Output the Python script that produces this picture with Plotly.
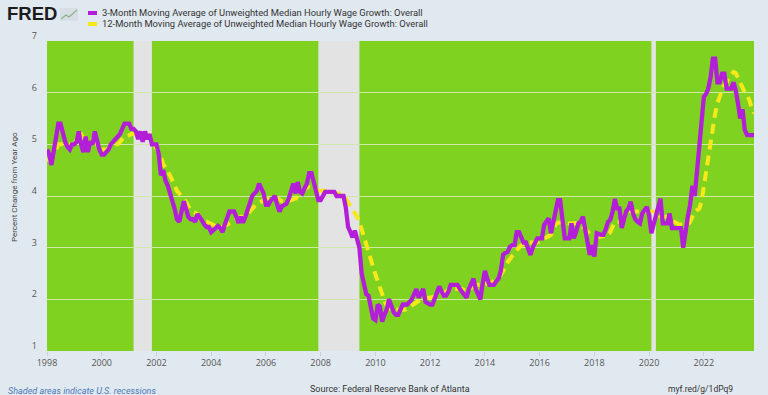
import pandas as pd
import plotly.graph_objects as go

# ---------------- data (monthly, Jan 1998 - Nov 2023) ----------------
start_month = "1998-01-01"

wage_3m = [
    4.9, 4.8, 4.6, 4.9, 5.2, 5.4, 5.4, 5.2, 5.05, 4.95, 4.9, 5.0,        # 1998
    5.0, 5.05, 5.25, 5.0, 4.85, 5.15, 4.85, 5.05, 5.0, 5.25, 5.05, 4.9,  # 1999
    4.8, 4.8, 4.85, 4.9, 5.0, 5.05, 5.1, 5.15, 5.2, 5.3, 5.4, 5.4,      # 2000
    5.4, 5.3, 5.3, 5.25, 5.1, 5.25, 5.05, 5.25, 5.1, 5.2, 5.0, 5.0,     # 2001
    5.0, 4.8, 4.4, 4.5, 4.3, 4.2, 4.05, 3.95, 3.75, 3.55, 3.5, 3.7,     # 2002
    3.9, 3.75, 3.6, 3.55, 3.55, 3.5, 3.65, 3.6, 3.5, 3.45, 3.4, 3.4,    # 2003
    3.3, 3.35, 3.4, 3.42, 3.38, 3.3, 3.45, 3.6, 3.7, 3.7, 3.7, 3.6,     # 2004
    3.48, 3.6, 3.48, 3.6, 3.75, 3.92, 4.0, 4.05, 4.1, 4.24, 4.15, 4.05, # 2005
    3.83, 3.83, 3.9, 3.95, 4.0, 3.83, 3.7, 3.8, 3.83, 3.85, 3.95, 4.1,  # 2006
    4.24, 4.05, 4.27, 4.08, 4.05, 4.15, 4.24, 4.44, 4.44, 4.27, 4.1, 3.92,  # 2007
    3.92, 4.0, 4.08, 4.08, 4.08, 4.08, 4.08, 4.0, 4.0, 4.0, 4.0, 3.78,  # 2008
    3.4, 3.3, 3.2, 3.33, 3.15, 3.0, 2.5, 2.3, 2.1, 2.07, 1.85, 1.63,    # 2009
    1.6, 1.9, 1.86, 1.57, 1.7, 1.8, 2.0, 1.86, 1.75, 1.7, 1.7, 1.8,     # 2010
    1.9, 1.9, 1.9, 1.95, 2.0, 2.1, 2.2, 2.03, 2.1, 2.2, 1.95, 1.92,     # 2011
    1.9, 1.9, 2.0, 2.13, 2.25, 2.15, 2.07, 2.07, 2.15, 2.28, 2.28, 2.28,  # 2012
    2.28, 2.2, 2.15, 2.1, 2.03, 2.2, 2.3, 2.4, 2.2, 2.1, 2.0, 2.3,      # 2013
    2.55, 2.4, 2.28, 2.28, 2.28, 2.35, 2.4, 2.55, 2.86, 2.9, 2.92, 3.02,  # 2014
    3.05, 3.05, 3.3, 3.3, 3.18, 3.1, 3.1, 3.0, 2.86, 3.0, 3.1, 3.18,    # 2015
    3.18, 3.18, 3.44, 3.5, 3.57, 3.28, 3.47, 3.7, 3.92, 3.92, 3.5, 3.18,  # 2016
    3.18, 3.18, 3.47, 3.18, 3.3, 3.47, 3.5, 3.6, 3.35, 3.1, 2.86, 3.05,  # 2017
    2.83, 3.28, 3.26, 3.25, 3.25, 3.35, 3.5, 3.54, 3.7, 3.94, 3.76, 3.76,  # 2018
    3.38, 3.6, 3.7, 3.76, 3.89, 3.66, 3.55, 3.5, 3.47, 3.66, 3.72, 3.79,  # 2019
    3.63, 3.28, 3.45, 3.63, 3.8, 3.95, 3.47, 3.47, 3.47, 3.66, 3.38, 3.38,  # 2020
    3.38, 3.38, 3.38, 3.0, 3.38, 3.6, 3.83, 4.2, 4.0, 4.47, 4.85, 5.24,  # 2021
    5.92, 5.98, 6.08, 6.3, 6.66, 6.66, 6.2, 6.2, 6.37, 6.37, 6.08, 6.08,  # 2022
    6.08, 6.2, 6.05, 5.8, 5.5, 5.68, 5.28, 5.18, 5.18, 5.18, 5.18,       # 2023
]

wage_12m = [
    4.7, 4.7, 4.7, 4.8, 4.9, 5.0, 5.0, 5.0, 5.0, 5.0, 5.0, 5.0,         # 1998
    5.0, 5.1, 5.2, 5.2, 5.12, 5.1, 5.08, 5.08, 5.1, 5.1, 5.0, 4.95,     # 1999
    4.9, 4.9, 4.9, 4.92, 4.97, 5.0, 5.0, 5.0, 5.05, 5.1, 5.15, 5.15,    # 2000
    5.18, 5.2, 5.2, 5.2, 5.2, 5.2, 5.2, 5.2, 5.2, 5.15, 5.1, 5.0,       # 2001
    4.92, 4.85, 4.75, 4.62, 4.55, 4.48, 4.4, 4.3, 4.2, 4.1, 4.05, 4.0,  # 2002
    3.95, 3.88, 3.8, 3.73, 3.7, 3.68, 3.65, 3.6, 3.55, 3.5, 3.5, 3.48,  # 2003
    3.45, 3.42, 3.4, 3.4, 3.4, 3.4, 3.42, 3.45, 3.47, 3.5, 3.53, 3.56,  # 2004
    3.58, 3.6, 3.6, 3.6, 3.65, 3.7, 3.76, 3.82, 3.85, 3.86, 3.9, 3.92,  # 2005
    3.94, 3.96, 3.98, 4.0, 3.98, 3.95, 3.92, 3.9, 3.9, 3.9, 3.9, 3.92,  # 2006
    3.93, 3.95, 4.0, 4.05, 4.1, 4.15, 4.17, 4.17, 4.15, 4.12, 4.1, 4.1,  # 2007
    4.1, 4.1, 4.1, 4.08, 4.08, 4.08, 4.07, 4.05, 4.05, 4.0, 4.0, 3.95,  # 2008
    3.88, 3.82, 3.74, 3.66, 3.6, 3.5, 3.35, 3.2, 3.05, 2.88, 2.72, 2.6,  # 2009
    2.48, 2.35, 2.22, 2.1, 1.98, 1.87, 1.82, 1.8, 1.8, 1.8, 1.8, 1.8,   # 2010
    1.8, 1.8, 1.82, 1.85, 1.9, 1.93, 1.95, 1.97, 2.0, 2.0, 2.02, 2.03,  # 2011
    2.03, 2.05, 2.05, 2.07, 2.08, 2.1, 2.12, 2.15, 2.18, 2.2, 2.2, 2.2,  # 2012
    2.2, 2.2, 2.2, 2.18, 2.17, 2.2, 2.23, 2.25, 2.27, 2.28, 2.28, 2.3,  # 2013
    2.3, 2.3, 2.3, 2.32, 2.35, 2.4, 2.44, 2.47, 2.55, 2.65, 2.72, 2.78,  # 2014
    2.85, 2.9, 2.95, 3.0, 3.05, 3.08, 3.1, 3.1, 3.1, 3.1, 3.1, 3.1,     # 2015
    3.12, 3.15, 3.18, 3.2, 3.22, 3.25, 3.35, 3.45, 3.48, 3.5, 3.5, 3.5,  # 2016
    3.48, 3.47, 3.47, 3.47, 3.48, 3.48, 3.45, 3.4, 3.35, 3.3, 3.25, 3.22,  # 2017
    3.2, 3.2, 3.2, 3.22, 3.22, 3.25, 3.25, 3.3, 3.4, 3.5, 3.5, 3.5,     # 2018
    3.5, 3.55, 3.6, 3.65, 3.7, 3.7, 3.7, 3.7, 3.7, 3.7, 3.7, 3.7,       # 2019
    3.7, 3.7, 3.7, 3.7, 3.65, 3.6, 3.6, 3.6, 3.58, 3.57, 3.55, 3.5,     # 2020
    3.47, 3.45, 3.45, 3.44, 3.44, 3.45, 3.5, 3.6, 3.7, 3.73, 3.75, 3.9,  # 2021
    4.2, 4.45, 4.75, 5.05, 5.35, 5.6, 5.8, 5.95, 6.05, 6.15, 6.2, 6.3,  # 2022
    6.35, 6.4, 6.38, 6.3, 6.2, 6.1, 6.0, 5.95, 5.85, 5.7, 5.6,          # 2023
]

recession_starts = ["2001-03-01", "2007-12-01", "2020-02-01"]
recession_ends = ["2001-11-01", "2009-06-01", "2020-04-01"]

y_ticks = [1, 2, 3, 4, 5, 6, 7]
x_tick_years = list(range(1998, 2023, 2))

series_names = [
    "3-Month Moving Average of Unweighted Median Hourly Wage Growth: Overall",
    "12-Month Moving Average of Unweighted Median Hourly Wage Growth: Overall",
]
series_colors = ["#b31fd8", "#f7e81a"]

# ---------------- layout geometry ----------------
W, H = 768, 395
L, R, T, B = 47, 14, 41, 44
PW, PH = W - L - R, H - T - B


def px(x):
    return (x - L) / PW


def py(y):
    return (H - B - y) / PH


dates = pd.date_range(start_month, periods=len(wage_3m), freq="MS")

fig = go.Figure()

fig.add_trace(go.Scatter(
    x=dates, y=wage_12m, mode="lines", name=series_names[1],
    line=dict(color=series_colors[1], width=4, dash="10px,6px"),
))
fig.add_trace(go.Scatter(
    x=dates, y=wage_3m, mode="lines", name=series_names[0],
    line=dict(color=series_colors[0], width=4.3),
))

for s, e in zip(recession_starts, recession_ends):
    fig.add_shape(type="rect", xref="x", yref="paper", x0=s, x1=e, y0=0, y1=1,
                  fillcolor="#e3e3e3", line_width=0, layer="between")

shapes_extra = []
# legend swatches
for i, c in enumerate(series_colors):
    yy = 13 + 11 * i
    shapes_extra.append(dict(type="line", xref="paper", yref="paper",
                             x0=px(88), x1=px(97), y0=py(yy), y1=py(yy),
                             line=dict(color=c, width=4)))
# tiny FRED graph icon
shapes_extra.append(dict(type="rect", xref="paper", yref="paper",
                         x0=px(60), x1=px(78), y0=py(21), y1=py(8),
                         fillcolor="#d7dee5", line_width=0))
shapes_extra.append(dict(type="path", xref="paper", yref="paper",
                         path=(f"M {px(61)},{py(19)} L {px(66)},{py(15)} L {px(69)},{py(17)} "
                               f"L {px(77)},{py(10)}"),
                         line=dict(color="#8fb08a", width=1.2)))
for sh in shapes_extra:
    fig.add_shape(**sh)

font_main = "Roboto, Open Sans, sans-serif"
font_ticks = "Open Sans, sans-serif"

annotations = [
    dict(text="<b>FRED</b>", x=px(5), y=py(14), xanchor="left", yanchor="middle",
         font=dict(family="Liberation Sans, Arial, sans-serif", size=18.5, color="#1c1c1c")),
    dict(text="Percent Change from Year Ago", x=px(14), y=py(187), textangle=-90,
         xanchor="center", yanchor="middle",
         font=dict(family="Roboto, sans-serif", size=8, color="#4a4a4a")),
    dict(text="Source: Federal Reserve Bank of Atlanta", x=px(390), y=py(389),
         xanchor="center", yanchor="middle",
         font=dict(family=font_main, size=9, color="#333333")),
    dict(text="myf.red/g/1dPq9", x=px(735), y=py(389), xanchor="right", yanchor="middle",
         font=dict(family=font_main, size=8.5, color="#333333")),
    dict(text="<i>Shaded areas indicate U.S. recessions</i>", x=px(6), y=py(391),
         xanchor="left", yanchor="middle",
         font=dict(family=font_main, size=9, color="#4a78b8")),
]
for i, name in enumerate(series_names):
    annotations.append(dict(text=name, x=px(100), y=py(13 + 11 * i), xanchor="left",
                            yanchor="middle",
                            font=dict(family=font_main, size=9.4, color="#333333")))
for a in annotations:
    fig.add_annotation(xref="paper", yref="paper", showarrow=False, **a)

fig.update_layout(
    width=W, height=H,
    margin=dict(l=L, r=R, t=T, b=B, pad=0),
    paper_bgcolor="#e1e9f0",
    plot_bgcolor="#7fd320",
    showlegend=False,
    font=dict(family=font_main, color="#555555"),
)

fig.update_xaxes(
    range=[dates[0], dates[-1]],
    tickvals=[pd.Timestamp(f"{y}-01-01") for y in x_tick_years],
    ticktext=[str(y) for y in x_tick_years],
    showgrid=False, zeroline=False, showline=False,
    ticks="outside", ticklen=4, tickcolor="#c8d0d8", tickwidth=1,
    ticklabelstandoff=-1,
    tickfont=dict(family=font_ticks, size=9, color="#555555"),
)
fig.update_yaxes(
    range=[1, 7],
    tickvals=y_ticks,
    showgrid=True, gridcolor="#cde7ad", gridwidth=1,
    zeroline=False, showline=False,
    ticks="", ticklabelstandoff=9, ticklabelshift=-5,
    tickfont=dict(family=font_ticks, size=9, color="#555555"),
)

fig.write_html(
    "out.html",
    config={"displayModeBar": False},
    post_script=("document.body.style.margin='0';document.body.style.padding='0';"
                 "document.body.style.backgroundColor='#e1e9f0';"
                 "document.documentElement.style.overflow='hidden';"),
)
